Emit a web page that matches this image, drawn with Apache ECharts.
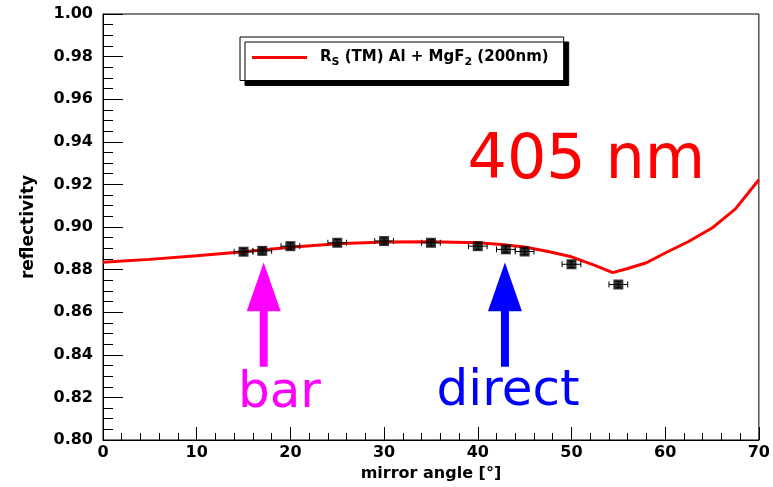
<!DOCTYPE html>
<html><head><meta charset="utf-8">
<script src="https://cdn.jsdelivr.net/npm/echarts@6/dist/echarts.min.js"></script>
<style>html,body{margin:0;padding:0;background:#fff}#c{width:773px;height:487px}</style>
</head><body><div id="c"></div>
<script>
// theory curve: R_S (TM) Al + MgF2 (200nm)
const curveAngles = [0, 5, 10, 15, 20, 25, 30, 35, 40, 42.5, 45, 47.5, 50, 52.5, 54.4, 56, 58, 60, 62.5, 65, 67.5, 70];
const curveRefl   = [0.8835, 0.8848, 0.8865, 0.8884, 0.8905, 0.8921, 0.8930, 0.8931, 0.8926, 0.8918, 0.8906, 0.8885, 0.8860, 0.8820, 0.8786, 0.8805, 0.8832, 0.8878, 0.8932, 0.8995, 0.9085, 0.9222];
// measurements
const measAngles = [15, 17, 20, 25, 30, 35, 40, 43, 45, 50, 55];
const measRefl   = [0.8884, 0.8888, 0.8910, 0.8926, 0.8934, 0.8926, 0.8910, 0.8895, 0.8885, 0.8825, 0.8730];
const angleErr   = [1, 1, 1, 1, 1, 1, 1, 1, 1, 1, 1];
const reflErr    = [0.0015, 0.0015, 0.0015, 0.0015, 0.0015, 0.0015, 0.0015, 0.0015, 0.0015, 0.0015, 0.0015];
// annotations
const arrowLabels = ['bar', 'direct'];
const arrowAngles = [17.15, 42.9];
const arrowColors = ['#ff00ff', '#0000ff'];

const chart = echarts.init(document.getElementById('c'));
const curveData = curveAngles.map((a, i) => [a, curveRefl[i]]);
const measData = measAngles.map((a, i) => [a, measRefl[i]]);
const errData = measAngles.map((a, i) => [a, measRefl[i], angleErr[i], reflErr[i]]);
const bold = 'DejaVu Sans';

chart.setOption({
  animation: false,
  backgroundColor: '#fff',
  grid: { left: 103, right: 13, top: 14, bottom: 44, show: true, borderColor: '#000', borderWidth: 1, backgroundColor: 'transparent' },
  legend: {
    left: 240, top: 37,
    data: [{ name: 'curve', icon: 'rect' }],
    itemWidth: 55, itemHeight: 3, itemGap: 0,
    padding: [13, 15, 13, 12],
    backgroundColor: '#fff', borderColor: '#000', borderWidth: 1, borderRadius: 0,
    shadowColor: '#000', shadowBlur: 0, shadowOffsetX: 5, shadowOffsetY: 5,
    formatter: () => '{n|R}{s|S}{n| (TM) Al + MgF}{s|2}{n| (200nm)}',
    textStyle: {
      padding: [0, 0, 0, 8],
      rich: {
        n: { fontFamily: bold, fontWeight: 'bold', fontSize: 15, color: '#000' },
        s: { fontFamily: bold, fontWeight: 'bold', fontSize: 11, color: '#000', verticalAlign: 'bottom', padding: [9, 0, 0, 0] }
      }
    }
  },
  xAxis: {
    type: 'value', min: 0, max: 70, interval: 10,
    name: 'mirror angle [°]', nameLocation: 'middle', nameGap: 26,
    nameTextStyle: { fontFamily: bold, fontWeight: 'bold', fontSize: 16, color: '#000' },
    axisLine: { lineStyle: { color: '#000', width: 1 } },
    axisTick: { inside: true, length: 13, lineStyle: { color: '#000' } },
    minorTick: { show: true, splitNumber: 5, length: 7, lineStyle: { color: '#000' } },
    splitLine: { show: false },
    axisLabel: { margin: 5, fontFamily: bold, fontWeight: 'bold', fontSize: 16, color: '#000' }
  },
  yAxis: {
    type: 'value', min: 0.80, max: 1.00, interval: 0.02,
    name: 'reflectivity', nameLocation: 'middle', nameGap: 66,
    nameTextStyle: { fontFamily: bold, fontWeight: 'bold', fontSize: 17, color: '#000' },
    axisLine: { show: true, lineStyle: { color: '#000', width: 1 } },
    axisTick: { show: true, inside: true, length: 20, lineStyle: { color: '#000' } },
    minorTick: { show: true, splitNumber: 4, length: 10, lineStyle: { color: '#000' } },
    splitLine: { show: false },
    axisLabel: { margin: 10, fontFamily: bold, fontWeight: 'bold', fontSize: 16, color: '#000', formatter: v => v.toFixed(2) }
  },
  series: [
    {
      name: 'curve', type: 'line', data: curveData, showSymbol: false, symbol: 'none',
      lineStyle: { color: '#ff0000', width: 3 }, itemStyle: { color: '#ff0000' }, z: 2
    },
    {
      name: 'errors', type: 'custom', data: errData, z: 3,
      renderItem: (params, api) => {
        const x = api.value(0), y = api.value(1), ex = api.value(2), ey = api.value(3);
        const l = api.coord([x - ex, y]), r = api.coord([x + ex, y]);
        const t = api.coord([x, y + ey]), b = api.coord([x, y - ey]);
        const st = { stroke: '#000', lineWidth: 1 };
        const c = 3;
        return { type: 'group', children: [
          { type: 'line', shape: { x1: l[0], y1: l[1], x2: r[0], y2: r[1] }, style: st },
          { type: 'line', shape: { x1: l[0], y1: l[1] - c, x2: l[0], y2: l[1] + c }, style: st },
          { type: 'line', shape: { x1: r[0], y1: r[1] - c, x2: r[0], y2: r[1] + c }, style: st },
          { type: 'line', shape: { x1: t[0], y1: t[1], x2: b[0], y2: b[1] }, style: st },
          { type: 'line', shape: { x1: t[0] - c, y1: t[1], x2: t[0] + c, y2: t[1] }, style: st },
          { type: 'line', shape: { x1: b[0] - c, y1: b[1], x2: b[0] + c, y2: b[1] }, style: st }
        ] };
      }
    },
    {
      name: 'data', type: 'scatter', data: measData, symbol: 'rect', symbolSize: 10,
      itemStyle: { color: '#000' }, z: 4
    }
  ]
});

// annotations positioned through the axes
const px = (x, y) => chart.convertToPixel({ gridIndex: 0 }, [x, y]);
const g = [];
arrowAngles.forEach((a, i) => {
  const tip = px(a, 0.8833), head = px(a, 0.8605), tail = px(a, 0.8344);
  g.push({ type: 'polygon', shape: { points: [[tip[0], tip[1]], [tip[0] - 17, head[1]], [tip[0] + 17, head[1]]] }, style: { fill: arrowColors[i] } });
  g.push({ type: 'rect', shape: { x: tip[0] - 4, y: head[1] - 1, width: 8, height: tail[1] - head[1] + 1 }, style: { fill: arrowColors[i] } });
});
const textPos = [[14.4, 0.8335], [35.6, 0.8344]];
arrowLabels.forEach((t, i) => {
  const p = px(textPos[i][0], textPos[i][1]);
  g.push({ type: 'text', x: p[0], y: p[1], style: { text: t, fill: arrowColors[i], font: '50px "Comic Sans MS", "DejaVu Sans"', textAlign: 'left', textVerticalAlign: 'top' } });
});
const wp = px(38.9, 0.9451);
g.push({ type: 'text', x: wp[0], y: wp[1], style: { text: '405 nm', fill: '#ff0000', font: '62px "Comic Sans MS", "DejaVu Sans"', textAlign: 'left', textVerticalAlign: 'top' } });
chart.setOption({ graphic: g });
</script>
</body></html>
